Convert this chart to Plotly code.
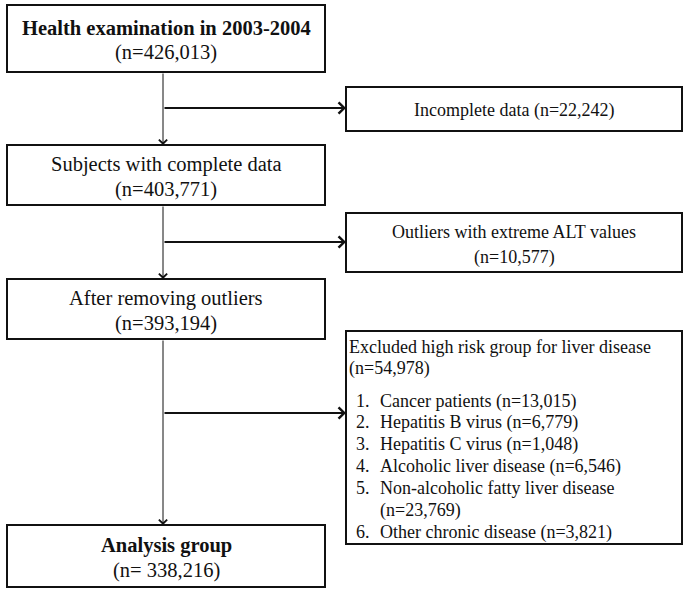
import plotly.graph_objects as go

FONT = "Liberation Serif, Times New Roman, serif"
INK = "#111111"

# flow text
main_titles = ["Health examination in 2003-2004", "Subjects with complete data",
               "After removing outliers", "Analysis group"]
main_counts = ["426,013", "403,771", "393,194", " 338,216"]
main_bold = [True, False, False, True]

excl_titles = ["Incomplete data", "Outliers with extreme ALT values",
               "Excluded high risk group for liver disease"]
excl_counts = ["22,242", "10,577", "54,978"]

risk_items = ["Cancer patients", "Hepatitis B virus", "Hepatitis C virus",
              "Alcoholic liver disease", "Non-alcoholic fatty liver disease",
              "Other chronic disease"]
risk_counts = ["13,015", "6,779", "1,048", "6,546", "23,769", "3,821"]

# layout (pixel coordinates)
W, H = 690, 592
MX0, MX1 = 7, 325
main_y = [(5, 72), (145, 205), (279, 339), (525, 587)]
RX0, RX1 = 346, 682
excl_y = [(87, 131), (213, 272), (331, 544)]
branch_y = [108, 242, 413]
TRUNK = 163
# text line centres inside the big exclusion box
list_y = [347, 368, 401, 422, 444, 466, 488, 510, 532]

fig = go.Figure()
shapes, ann = [], []


def box(x0, y0, x1, y1):
    shapes.append(dict(type="rect", x0=x0, x1=x1, y0=y0, y1=y1, xref="x", yref="y",
                       line=dict(color=INK, width=2), fillcolor="white", layer="above"))


def label(x, y, text, size, bold=False, anchor="center"):
    if bold:
        text = f"<b>{text}</b>"
    ann.append(dict(x=x, y=y, xref="x", yref="y", text=text, showarrow=False,
                    xanchor=anchor, yanchor="middle", borderpad=0,
                    font=dict(family=FONT, size=size, color=INK)))


def arrow(x0, y0, x1, y1, width, size):
    ann.append(dict(x=x1, y=y1, ax=x0, ay=y0, xref="x", yref="y", axref="x", ayref="y",
                    text="", showarrow=True, arrowhead=4, arrowsize=size,
                    arrowwidth=width, arrowcolor=INK, standoff=0))


# main column
cx = (MX0 + MX1) / 2
for (y0, y1), t, n, b in zip(main_y, main_titles, main_counts, main_bold):
    box(MX0, y0, MX1, y1)
    mid = (y0 + y1) / 2
    label(cx, mid - 11, t, 20.5, bold=b)
    label(cx, mid + 14, f"(n={n})", 20.5)

# trunk arrows between main boxes
for (a, b) in zip(main_y[:-1], main_y[1:]):
    arrow(TRUNK, a[1], TRUNK, b[0], 1, 1.6)

# exclusion boxes
rcx = (RX0 + RX1) / 2
box(RX0, excl_y[0][0], RX1, excl_y[0][1])
label(rcx, sum(excl_y[0]) / 2 + 1, f"{excl_titles[0]} (n={excl_counts[0]})", 18)

box(RX0, excl_y[1][0], RX1, excl_y[1][1])
label(rcx, 232, excl_titles[1], 18)
label(rcx, 257, f"(n={excl_counts[1]})", 18)

box(RX0, excl_y[2][0], RX1, excl_y[2][1])
TX = RX0 + 2
label(TX, list_y[0], excl_titles[2], 18, anchor="left")
label(TX, list_y[1], f"(n={excl_counts[2]})", 18, anchor="left")
k = 2
for i, (item, n) in enumerate(zip(risk_items, risk_counts), start=1):
    label(TX + 7, list_y[k], f"{i}.", 18, anchor="left")
    if "fatty" in item:
        label(TX + 31, list_y[k], item, 18, anchor="left")
        k += 1
        label(TX + 31, list_y[k], f"(n={n})", 18, anchor="left")
    else:
        label(TX + 31, list_y[k], f"{item} (n={n})", 18, anchor="left")
    k += 1

# branch arrows
for by in branch_y:
    arrow(TRUNK, by, RX0, by, 2, 1.1)

fig.update_layout(
    width=W, height=H,
    margin=dict(l=0, r=0, t=0, b=0),
    paper_bgcolor="white", plot_bgcolor="white",
    xaxis=dict(range=[0, W], visible=False, fixedrange=True),
    yaxis=dict(range=[H, 0], visible=False, fixedrange=True),
    shapes=shapes, annotations=ann, showlegend=False,
)
fig.write_html("out.html", config={"displayModeBar": False},
               post_script="document.body.style.margin='0';")
